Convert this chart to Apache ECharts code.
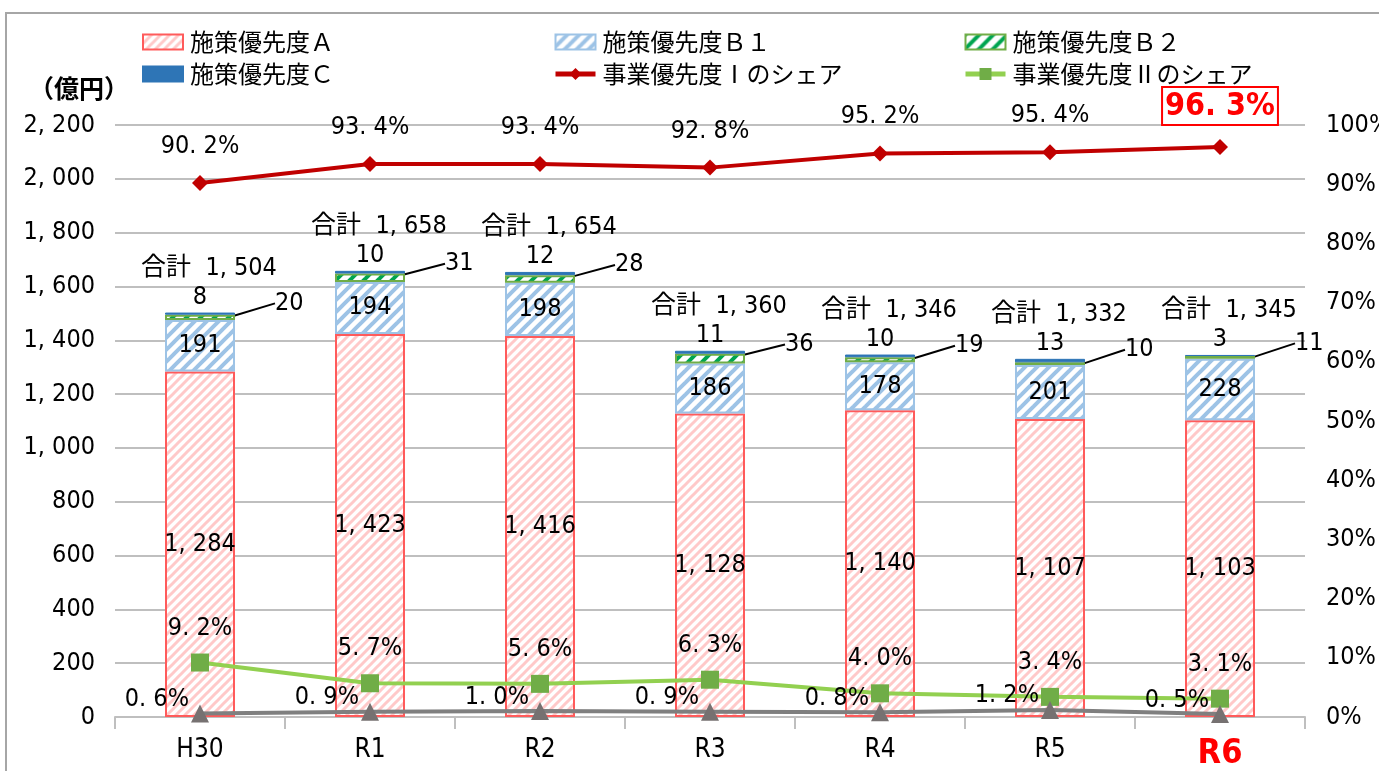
<!DOCTYPE html>
<html>
<head>
<meta charset="utf-8">
<script src="https://cdn.jsdelivr.net/npm/echarts@6/dist/echarts.min.js"></script>
<style>
  html, body { margin: 0; padding: 0; background: #fff; }
  #chart { width: 1379px; height: 771px; }
</style>
</head>
<body>
<div id="chart"></div>
<script>
  // 年度
  const years = ['H30', 'R1', 'R2', 'R3', 'R4', 'R5', 'R6'];
  // 予算額（億円）
  const prioA  = [1284, 1423, 1416, 1128, 1140, 1107, 1103];
  const prioB1 = [191, 194, 198, 186, 178, 201, 228];
  const prioB2 = [20, 31, 28, 36, 19, 10, 11];
  const prioC  = [8, 10, 12, 11, 10, 13, 3];
  const totals = [1504, 1658, 1654, 1360, 1346, 1332, 1345];
  // シェア（%）
  const shareI   = [90.2, 93.4, 93.4, 92.8, 95.2, 95.4, 96.3];
  const shareII  = [9.2, 5.7, 5.6, 6.3, 4.0, 3.4, 3.1];
  const shareIII = [0.6, 0.9, 1.0, 0.9, 0.8, 1.2, 0.5];
  // 軸
  const leftTicks = { min: 0, max: 2200, interval: 200 };
  const rightTicks = { min: 0, max: 100, interval: 10 };

  const FONT = "'DejaVu Sans Condensed', 'Liberation Sans Narrow', 'Noto Sans CJK JP', sans-serif";
  const JP = "'Noto Sans CJK JP', sans-serif";

  function stripes(fg, lineW, size) {
    const c = document.createElement('canvas');
    c.width = size; c.height = size;
    const g = c.getContext('2d');
    g.fillStyle = '#fff';
    g.fillRect(0, 0, size, size);
    g.strokeStyle = fg;
    g.lineWidth = lineW;
    [[-size, size * 2, size * 2, -size], [-size, size, size, -size], [0, size * 2, size * 2, 0]].forEach(p => {
      g.beginPath(); g.moveTo(p[0], p[1]); g.lineTo(p[2], p[3]); g.stroke();
    });
    return { image: c, repeat: 'repeat' };
  }

  // 元の図の表記（区切りの後に空き）に合わせる
  const fmt = v => v.toLocaleString('en-US').replace(/,/g, ', ');
  const pct = p => p.value.toFixed(1).replace('.', '. ') + '%';

  const legendBase = {
    top: 25, orient: 'vertical', itemGap: 8, itemWidth: 40, itemHeight: 15,
    lineStyle: { width: 5 },
    textStyle: { fontSize: 24, fontFamily: JP, color: '#000', padding: [0, 0, 0, 2] }
  };

  const chart = echarts.init(document.getElementById('chart'));
  chart.setOption({
    animation: false,
    textStyle: { fontFamily: FONT },
    graphic: [{
      type: 'rect', shape: { x: 6, y: 13, width: 1400, height: 800 },
      style: { fill: 'none', stroke: '#a6a6a6', lineWidth: 2 }
    }],
    legend: [
      { ...legendBase, left: 137, data: [{ name: '施策優先度Ａ', icon: 'rect' }, { name: '施策優先度Ｃ', icon: 'rect' }] },
      { ...legendBase, left: 548, data: [{ name: '施策優先度Ｂ１', icon: 'rect' }, '事業優先度Ⅰのシェア'] },
      { ...legendBase, left: 958, data: [{ name: '施策優先度Ｂ２', icon: 'rect' }, '事業優先度Ⅱのシェア'] }
    ],
    grid: { left: 115, right: 74, top: 125, bottom: 54, outerBoundsMode: 'none' },
    xAxis: {
      type: 'category', data: years, boundaryGap: true,
      axisLine: { lineStyle: { color: '#bfbfbf', width: 2 } },
      axisTick: { show: true, length: 12, lineStyle: { color: '#bfbfbf', width: 2 } },
      axisLabel: {
        margin: 20, fontSize: 26, color: '#000',
        formatter: v => v === 'R6' ? '{hl|' + v + '}' : v,
        rich: { hl: { color: '#ff0000', fontWeight: 'bold', fontSize: 34, fontFamily: FONT } }
      }
    },
    yAxis: [{
      type: 'value', ...leftTicks,
      name: '（億円）', nameLocation: 'end', nameGap: 24,
      nameTextStyle: { fontSize: 25, fontWeight: 'bold', color: '#000', fontFamily: JP, align: 'right', padding: [0, -14, 0, 0] },
      axisLine: { show: false }, axisTick: { show: false },
      axisLabel: { fontSize: 25, color: '#000', margin: 20, formatter: v => fmt(v) },
      splitLine: { lineStyle: { color: '#bfbfbf', width: 2 } }
    }, {
      type: 'value', ...rightTicks,
      axisLine: { show: false }, axisTick: { show: false },
      axisLabel: { fontSize: 25, color: '#000', margin: 21, formatter: '{value}%' },
      splitLine: { show: false }
    }],
    series: [
      {
        name: '施策優先度Ａ', type: 'bar', stack: 'total', barWidth: 70, data: prioA,
        itemStyle: { color: stripes('#ffc9c9', 3, 9), borderColor: '#ff5b5b', borderWidth: 2 },
        label: { show: true, position: 'inside', fontSize: 25, color: '#000', formatter: p => fmt(p.value) }
      },
      {
        name: '施策優先度Ｂ１', type: 'bar', stack: 'total', data: prioB1,
        itemStyle: { color: stripes('#9dc3e6', 4, 12), borderColor: '#9dc3e6', borderWidth: 2 },
        label: { show: true, position: 'inside', fontSize: 25, color: '#000' }
      },
      {
        name: '施策優先度Ｂ２', type: 'bar', stack: 'total', data: prioB2,
        itemStyle: { color: stripes('#00a550', 4, 14), borderColor: '#70ad47', borderWidth: 2 },
        label: { show: true, position: 'right', distance: 4, fontSize: 25, color: '#000' },
        labelLayout: { dx: 36, dy: -14 },
        labelLine: { show: true, lineStyle: { color: '#000', width: 2 } }
      },
      {
        name: '施策優先度Ｃ', type: 'bar', stack: 'total', data: prioC,
        itemStyle: { color: '#2e75b6', borderColor: '#2e75b6', borderWidth: 1 },
        label: {
          show: true, position: 'top', distance: 2, color: '#000',
          formatter: p => '{t|合計  ' + fmt(totals[p.dataIndex]) + '}\n{v|' + p.value + '}',
          rich: {
            t: { fontSize: 25, fontFamily: FONT, color: '#000', lineHeight: 32, padding: [0, 0, 0, 18] },
            v: { fontSize: 25, fontFamily: FONT, color: '#000', lineHeight: 26 }
          }
        }
      },
      {
        name: '事業優先度Ⅰのシェア', type: 'line', yAxisIndex: 1,
        symbol: 'diamond', symbolSize: 16,
        lineStyle: { color: '#c00000', width: 4 }, itemStyle: { color: '#c00000' },
        data: shareI.map((v, i) => i === shareI.length - 1 ? {
          value: v,
          label: { color: '#ff0000', fontWeight: 'bold', fontSize: 32, borderColor: '#ff0000', borderWidth: 2, padding: [4, 3, 2, 3], distance: 14 }
        } : v),
        label: { show: true, position: 'top', distance: 16, fontSize: 25, color: '#000', formatter: pct }
      },
      {
        name: '事業優先度Ⅱのシェア', type: 'line', yAxisIndex: 1,
        symbol: 'rect', symbolSize: 18,
        lineStyle: { color: '#92d050', width: 4 }, itemStyle: { color: '#70ad47' },
        data: shareII,
        label: { show: true, position: 'top', distance: 13, fontSize: 25, color: '#000', formatter: pct }
      },
      {
        name: '事業優先度Ⅲのシェア', type: 'line', yAxisIndex: 1,
        symbol: 'triangle', symbolSize: 18,
        lineStyle: { color: '#7f7f7f', width: 4 }, itemStyle: { color: '#767171' },
        data: shareIII,
        label: { show: true, position: 'left', distance: 2, offset: [0, -14], fontSize: 25, color: '#000', formatter: pct }
      }
    ]
  });
</script>
</body>
</html>
